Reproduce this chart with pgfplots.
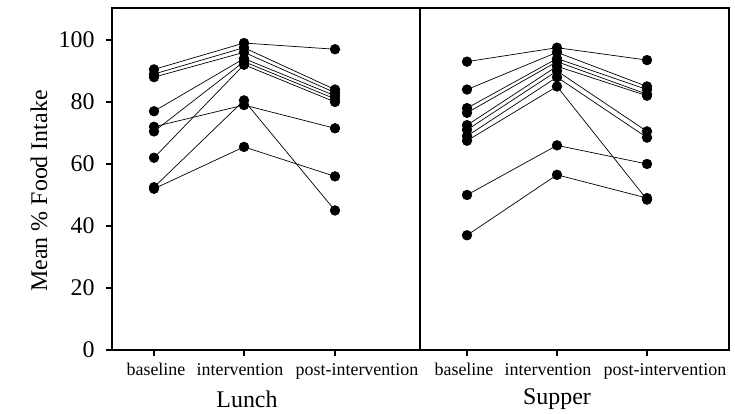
\documentclass[border=0pt]{standalone}
\usepackage{fontspec}
\setmainfont{Liberation Serif}
\usepackage{pgfplots}
\pgfplotsset{compat=1.18}
\usetikzlibrary{calc}
\begin{document}
\begin{tikzpicture}
\pgfplotsset{subj/.style={black, line width=0.7bp, mark=*, mark size=4.8bp, mark options={solid, fill=black}}}
\begin{axis}[name=ax, scale only axis, width=617bp, height=342bp,
  xmin=112, xmax=729, ymin=0, ymax=110.3,
  axis line style={line width=1.6bp},
  xtick={154,244,335,467,557,647},
  xticklabels={{\hspace*{4bp}baseline},{\hspace*{-8bp}intervention},{\hspace*{44bp}post-intervention},{\hspace*{-6bp}baseline},{\hspace*{-18bp}intervention},{\hspace*{36bp}post-intervention}},
  ytick={0,20,...,100},
  tick align=outside, tick pos=left,
  major tick length=6bp,
  tick style={line width=1.2bp, black},
  clip=false,
  /pgf/number format/assume math mode=true,
  yticklabel style={font=\fontsize{24}{28}\selectfont, xshift=-8bp},
  xticklabel style={font=\fontsize{18}{20}\selectfont, yshift=-4bp},
]
% Lunch
\addplot[subj] coordinates {(154,90.5) (244,99) (335,97)};
\addplot[subj] coordinates {(154,89) (244,97.5) (335,84)};
\addplot[subj] coordinates {(154,88) (244,96) (335,83)};
\addplot[subj] coordinates {(154,77) (244,94) (335,82)};
\addplot[subj] coordinates {(154,70.5) (244,93) (335,81)};
\addplot[subj] coordinates {(154,62) (244,92) (335,80)};
\addplot[subj] coordinates {(154,72) (244,79) (335,71.5)};
\addplot[subj] coordinates {(154,52.5) (244,80.5) (335,45)};
\addplot[subj] coordinates {(154,52) (244,65.5) (335,56)};
% Supper
\addplot[subj] coordinates {(467,93) (557,97.5) (647,93.5)};
\addplot[subj] coordinates {(467,84) (557,96) (647,85)};
\addplot[subj] coordinates {(467,78) (557,94) (647,84)};
\addplot[subj] coordinates {(467,76.5) (557,93) (647,82.5)};
\addplot[subj] coordinates {(467,72.5) (557,91.5) (647,82)};
\addplot[subj] coordinates {(467,71) (557,90) (647,70.5)};
\addplot[subj] coordinates {(467,69) (557,88) (647,68.5)};
\addplot[subj] coordinates {(467,67.5) (557,85) (647,48.5)};
\addplot[subj] coordinates {(467,50) (557,66) (647,60)};
\addplot[subj] coordinates {(467,37) (557,56.5) (647,49)};
\draw[line width=1.6bp] (axis cs:420,0) -- (axis cs:420,110.3);
\node[font=\fontsize{24}{28}\selectfont] at (axis cs:247,-15.8) {Lunch};
\node[font=\fontsize{24}{28}\selectfont] at (axis cs:557,-15.8) {Supper};
\node[font=\fontsize{24}{28}\selectfont, rotate=90] at (axis cs:39,51.3) {Mean \% Food Intake};
\end{axis}
\path ($(ax.south west)+(-112bp,-64bp)$) rectangle ($(ax.north east)+(6bp,8bp)$);
\end{tikzpicture}
\end{document}
